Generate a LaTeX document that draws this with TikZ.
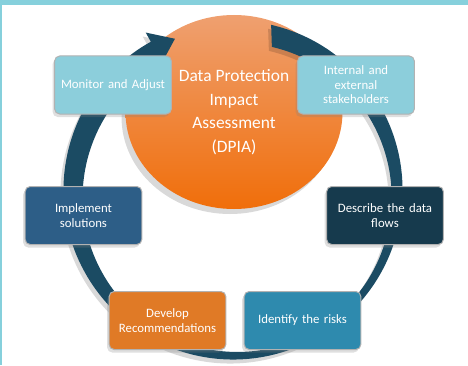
\documentclass[tikz,border=0pt]{standalone}
\usepackage{fontspec}
\setmainfont{Carlito}
\usetikzlibrary{positioning, shapes.geometric, shadows}

\definecolor{framecyan}{HTML}{86D0DC}
\definecolor{ringblue}{HTML}{1B4B63}
\definecolor{lightcyan}{HTML}{8CCEDB}
\definecolor{midblue}{HTML}{2D5E87}
\definecolor{darkteal}{HTML}{163A4D}
\definecolor{stepor}{HTML}{E07A26}
\definecolor{seablue}{HTML}{2E8AAE}
\definecolor{hubtop}{HTML}{EFA070}
\definecolor{hubmid}{HTML}{D8641C}
\definecolor{hubbot}{HTML}{F06E0A}

\tikzset{
  stepbox/.style = {draw=gray!60, line width=1pt, rounded corners=5pt,
    minimum width=116pt, minimum height=58pt, text width=110pt, align=center,
    text=white, font=\fontsize{12.8}{14.5}\selectfont,
    drop shadow={shadow xshift=-2pt, shadow yshift=-3pt, opacity=0.25}},
  hub/.style = {ellipse, minimum width=217pt, minimum height=194pt, inner sep=0pt,
    top color=hubtop, middle color=hubmid, bottom color=hubbot, align=center,
    text=white, font=\fontsize{17.4}{23.5}\selectfont,
    drop shadow={shadow xshift=-4pt, shadow yshift=-5pt, opacity=0.3}},
}

\begin{document}
\begin{tikzpicture}[x=1pt, y=1pt]
  \useasboundingbox (0,0) rectangle (468,365);
  % frame
  \fill[framecyan] (0,360) rectangle (468,365);
  \fill[framecyan] (0,0) rectangle (2,365);

  % centre
  \node[hub] (dpia) at (234,253) {Data Protection\\Impact\\Assessment\\(DPIA)};

  % cycle arrow
  \begin{scope}[shift={(233,175)}]
    \fill[black, opacity=0.15, shift={(-3pt,-4pt)}]
      (77:169.5pt) arc[start angle=77, end angle=-241, radius=169.5pt]
      -- (119:180pt) -- (111:162pt) -- (119:146pt)
      arc[start angle=-241, end angle=77, radius=154.5pt] -- cycle;
    \fill[ringblue]
      (77:169.5pt) arc[start angle=77, end angle=-241, radius=169.5pt]
      -- (119:180pt) -- (111:162pt) -- (119:146pt)
      arc[start angle=-241, end angle=77, radius=154.5pt] -- cycle;
  \end{scope}

  % steps
  \node[stepbox, fill=lightcyan] (monitor) at (113,280) {Monitor and Adjust};
  \node[stepbox, fill=lightcyan] (stake) at (356,280) {Internal and\\external\\stakeholders};
  \node[stepbox, fill=darkteal] (flows) at (385,149.5) {Describe the data\\flows};
  \node[stepbox, fill=seablue] (risks) at (302.5,44.5) {Identify the risks};
  \node[stepbox, fill=stepor] (recs) at (167.5,44.5) {Develop\\Recommendations};
  \node[stepbox, fill=midblue] (impl) at (83.5,149.5) {Implement\\solutions};
\end{tikzpicture}
\end{document}
